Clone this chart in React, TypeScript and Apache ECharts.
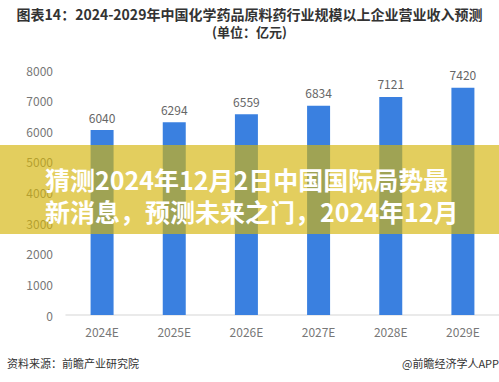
import React, { useEffect, useRef } from "react";
import * as echarts from "echarts";

const categories = ["2024E", "2025E", "2026E", "2027E", "2028E", "2029E"];
const revenue = [6040, 6294, 6559, 6834, 7121, 7420];
const titleLine1 = "图表14：2024-2029年中国化学药品原料药行业规模以上企业营业收入预测";
const titleLine2 = "(单位：亿元)";
const sourceText = "资料来源：前瞻产业研究院";
const brandText = "@前瞻经济学人APP";
const bannerLine1 = "猜测2024年12月2日中国国际局势最";
const bannerLine2 = "新消息，预测未来之门，2024年12月";

const FONT = '"Noto Sans CJK SC", "Noto Sans", sans-serif';

export default function App() {
  const ref = useRef<HTMLDivElement>(null);
  useEffect(() => {
    document.body.style.margin = "0";
    const chart = echarts.init(ref.current!, undefined, { renderer: "svg" });
    chart.setOption({
      animation: false,
      backgroundColor: "#ffffff",
      textStyle: { fontFamily: FONT },
      grid: { left: 66, right: 0, top: 70, bottom: 67, containLabel: false },
      xAxis: {
        type: "category",
        data: categories,
        axisLine: { lineStyle: { color: "#e3e3e3", width: 1.5 } },
        axisTick: { show: false },
        axisLabel: { color: "#777", fontSize: 12, margin: 10, fontFamily: FONT },
      },
      yAxis: {
        type: "value",
        min: 0,
        max: 8000,
        interval: 1000,
        axisLine: { show: false },
        axisTick: { show: false },
        splitLine: { show: false },
        axisLabel: {
          color: "#777",
          fontSize: 12,
          margin: 13,
          fontFamily: FONT,
          formatter: (v: number) => String(v),
        },
      },
      series: [
        {
          type: "bar",
          data: revenue,
          barWidth: 23,
          itemStyle: { color: "#3a80e0" },
          label: {
            show: true,
            position: "top",
            distance: 7,
            color: "#666",
            fontSize: 12,
            fontFamily: FONT,
          },
        },
      ],
      graphic: [
        {
          type: "text",
          left: "center",
          top: 7,
          style: { text: titleLine1, fill: "#333", font: `bold 14px ${FONT}` },
        },
        {
          type: "text",
          left: "center",
          top: 25,
          style: { text: titleLine2, fill: "#333", font: `bold 13px ${FONT}` },
        },
        {
          type: "text",
          left: 7,
          top: 357,
          style: { text: sourceText, fill: "#333", font: `11px ${FONT}` },
        },
        {
          type: "text",
          right: 0,
          top: 357,
          style: { text: brandText, fill: "#333", font: `11px ${FONT}` },
        },
        {
          type: "rect",
          z: 100,
          shape: { x: 0, y: 145, width: 499, height: 89 },
          style: { fill: "rgba(212,180,10,0.66)" },
        },
        {
          type: "text",
          z: 101,
          left: 45,
          top: 166,
          style: { text: bannerLine1, fill: "#ffffff", font: `bold 25px ${FONT}` },
        },
        {
          type: "text",
          z: 101,
          left: 45,
          top: 198,
          style: { text: bannerLine2, fill: "#ffffff", font: `bold 25px ${FONT}` },
        },
      ],
    });
    return () => chart.dispose();
  }, []);
  return (
    <div
      ref={ref}
      style={{ position: "absolute", left: 0, top: 0, width: 499, height: 382 }}
    />
  );
}
